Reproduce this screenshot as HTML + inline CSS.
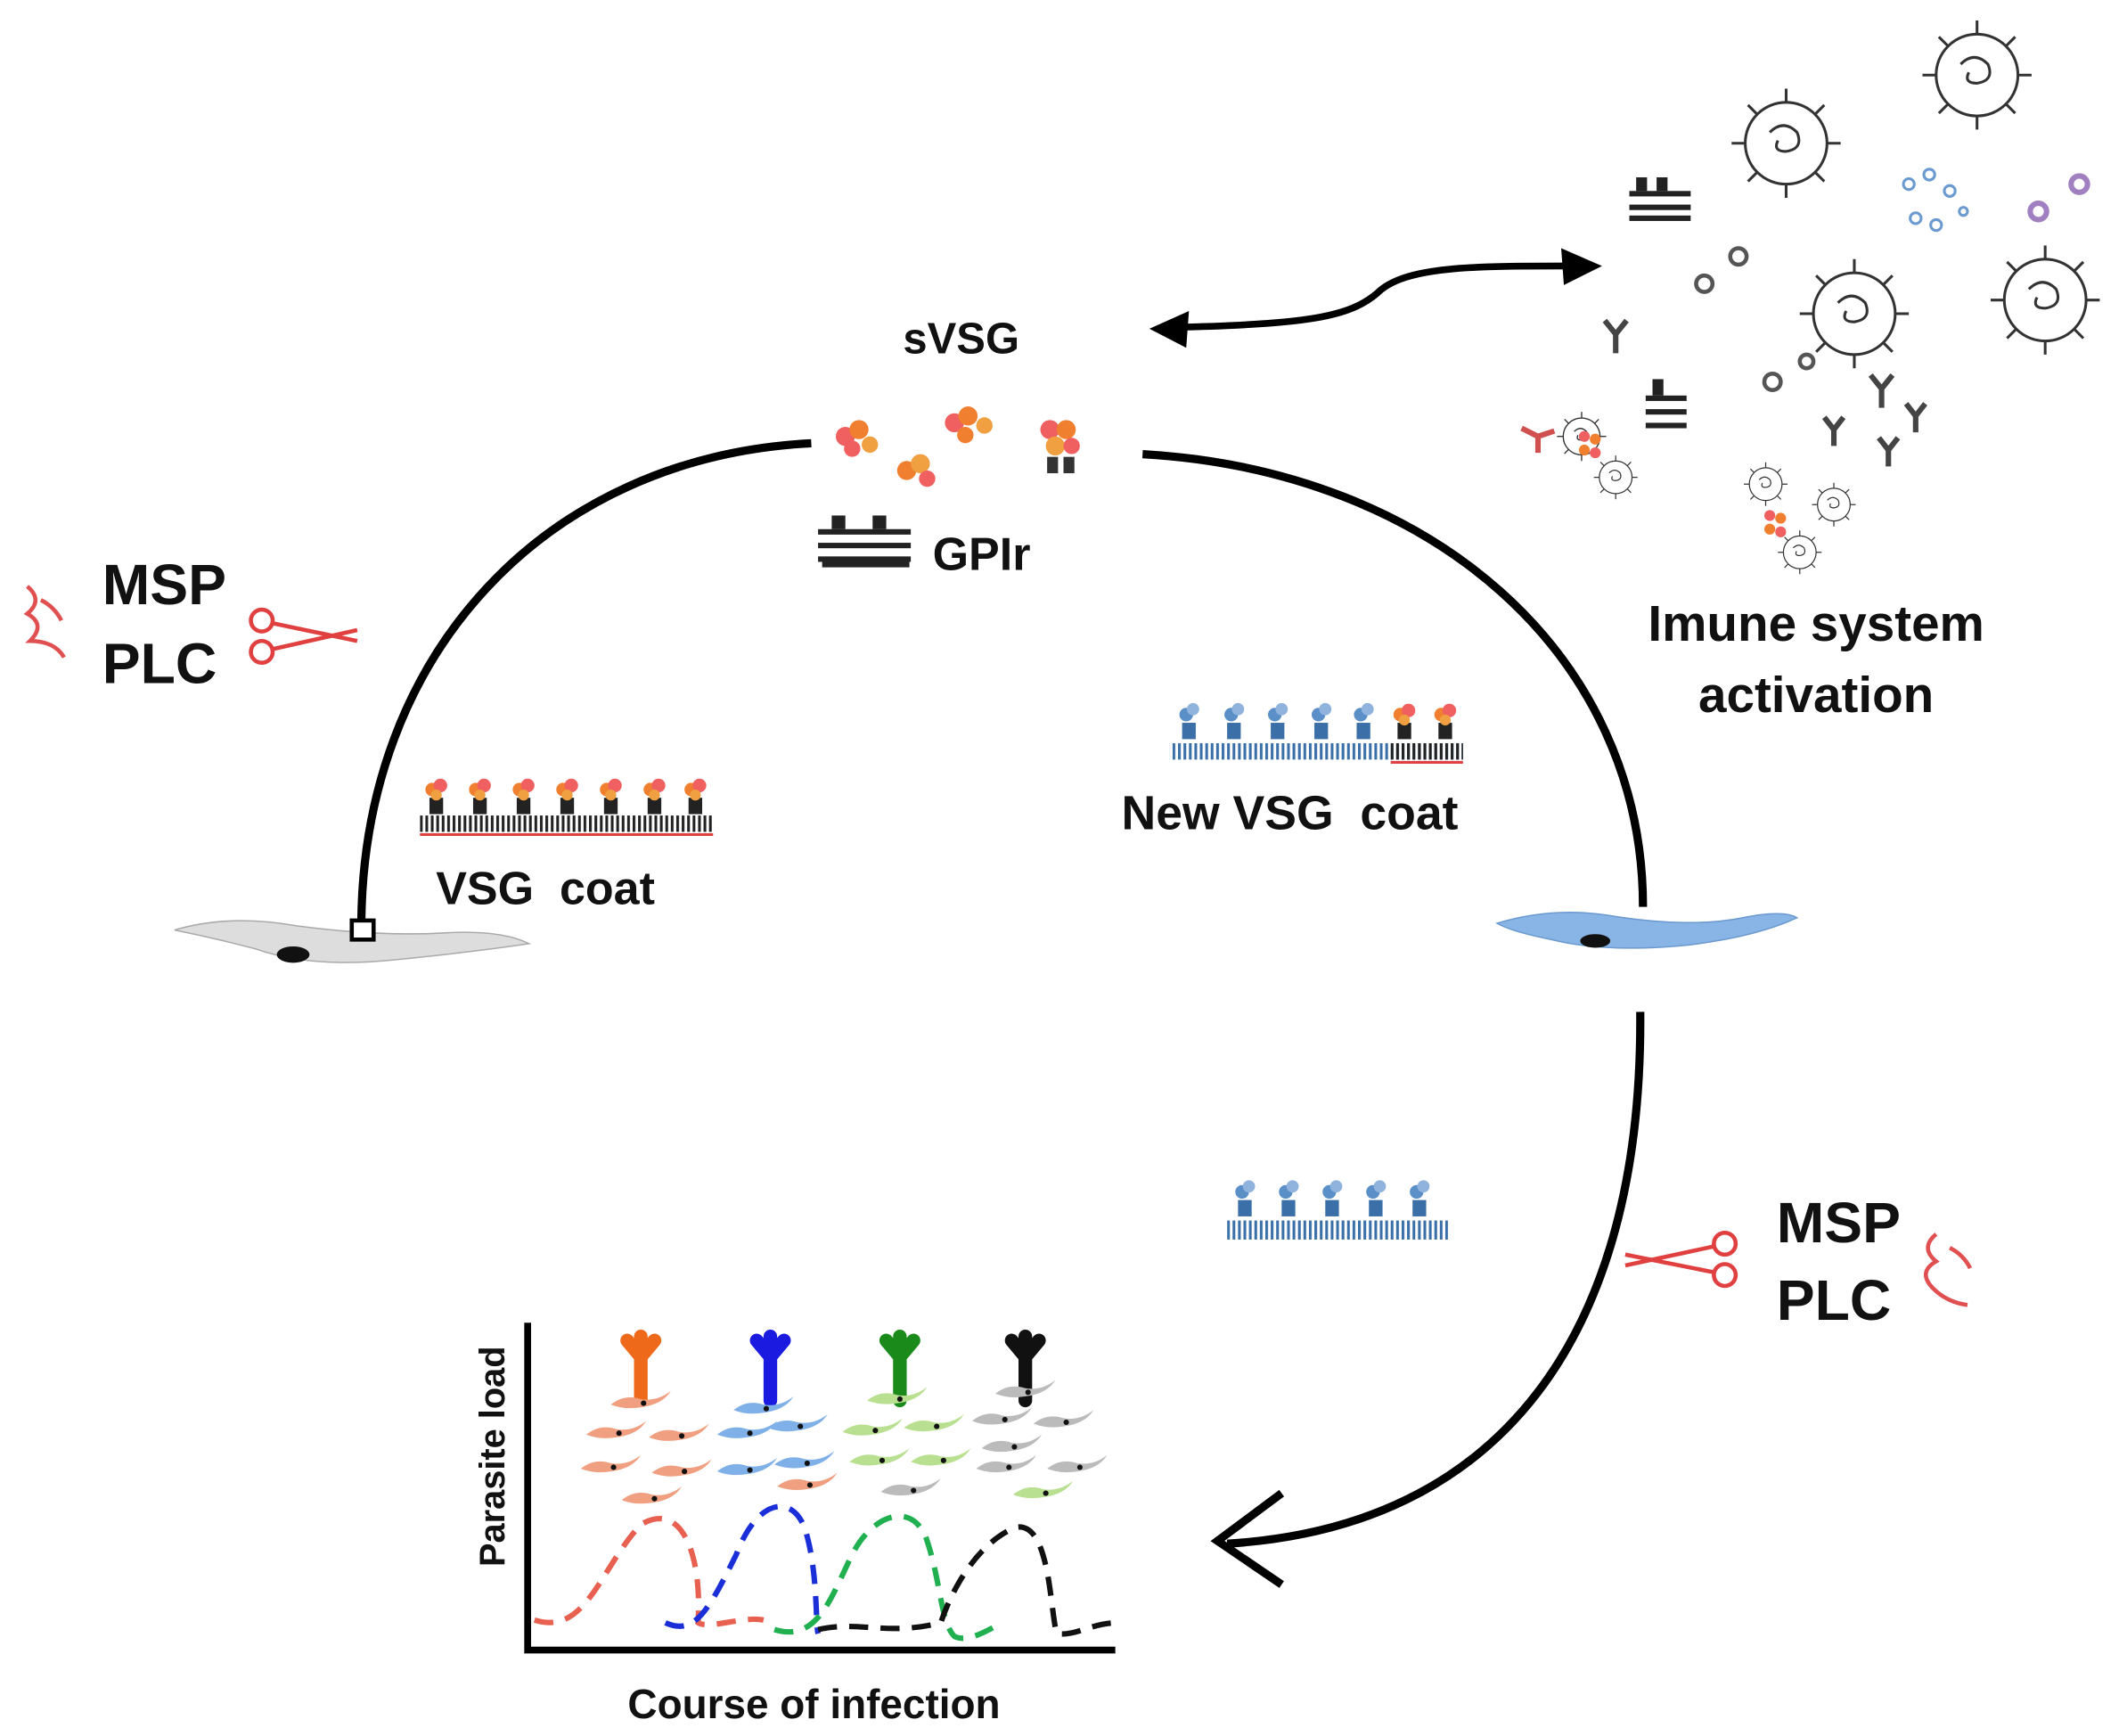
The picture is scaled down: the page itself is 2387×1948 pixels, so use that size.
<!DOCTYPE html>
<html><head><meta charset="utf-8"><style>
html,body{margin:0;padding:0;background:#fff}
svg{display:block}
text{font-family:"Liberation Sans",sans-serif;font-weight:bold;fill:#111}
</style></head><body>
<svg width="2387" height="1948" viewBox="0 0 1560 1273" xmlns="http://www.w3.org/2000/svg">
<defs>
<pattern id="stk" width="4" height="12" patternUnits="userSpaceOnUse"><rect width="2" height="12" fill="#222"/></pattern>
<pattern id="stb" width="4" height="12" patternUnits="userSpaceOnUse"><rect width="2" height="12" fill="#3a6fa8"/></pattern>
<g id="cell"><circle r="30" fill="none" stroke="#333" stroke-width="2"/><path d="M-12,-8 q10,-10 20,0 q5,12 -8,14 q-10,0 -6,-8" fill="none" stroke="#333" stroke-width="2"/>
<path d="M0,-30 v-10 M-30,0 h-10 M30,0 h10 M0,30 v10 M21,-21 l7,-7 M-21,21 l-7,7 M21,21 l7,7 M-21,-21 l-7,-7" stroke="#333" stroke-width="2"/></g>
<g id="vsg"><rect x="-5" y="0" width="10" height="12" fill="#222"/><circle cx="-3" cy="-6" r="5" fill="#f08030"/><circle cx="3" cy="-9" r="5" fill="#f06060"/><circle cx="0" cy="-2" r="4" fill="#f0a040"/></g>
<g id="bvsg"><rect x="-5" y="0" width="10" height="12" fill="#3a6fa8"/><circle cx="-2" cy="-6" r="5" fill="#5b8fc8"/><circle cx="3" cy="-10" r="4.5" fill="#8fb3dd"/></g>
<g id="tryp"><path d="M-22,2 q10,-8 22,-4 q12,2 22,-6 q-6,10 -22,12 q-12,2 -22,-2z"/><circle cx="2" cy="1" r="2" fill="#111"/></g>
</defs>

<path d="M595,325 C400,335 265,480 265,680" fill="none" stroke="#000" stroke-width="6"/>
<path d="M838,333 C1050,345 1205,480 1205,665" fill="none" stroke="#000" stroke-width="6"/>
<path d="M1203,742 C1205,980 1100,1120 900,1132" fill="none" stroke="#000" stroke-width="6"/>
<path d="M940,1095 L893,1130 L940,1162" fill="none" stroke="#000" stroke-width="6"/>
<path d="M860,240 C960,238 990,232 1010,215 C1030,195 1080,195 1155,195" fill="none" stroke="#000" stroke-width="5"/>
<path d="M843,241 L872,228 L870,255z" fill="#000"/>
<path d="M1175,195 L1145,182 L1147,209z" fill="#000"/>

<g transform="translate(620,320)"><circle r="7" fill="#f06060"/><circle cx="10" cy="-5" r="7" fill="#f08030"/><circle cx="18" cy="6" r="6" fill="#f0a040"/><circle cx="5" cy="9" r="6" fill="#f06060"/></g>
<g transform="translate(665,345)"><circle r="7" fill="#f08030"/><circle cx="10" cy="-5" r="7" fill="#f0a040"/><circle cx="15" cy="6" r="6" fill="#f06060"/></g>
<g transform="translate(700,310)"><circle r="7" fill="#f06060"/><circle cx="10" cy="-5" r="7" fill="#f08030"/><circle cx="22" cy="2" r="6" fill="#f0a040"/><circle cx="8" cy="9" r="6" fill="#f08030"/></g>
<g transform="translate(770,315)"><circle r="7" fill="#f06060"/><circle cx="12" cy="0" r="7" fill="#f08030"/><circle cx="4" cy="12" r="7" fill="#f0a040"/><circle cx="16" cy="12" r="6" fill="#f06060"/><rect x="-2" y="20" width="8" height="12" fill="#333"/><rect x="10" y="20" width="8" height="12" fill="#333"/></g>
<g fill="#222"><rect x="600" y="388" width="68" height="4"/><rect x="600" y="398" width="68" height="4"/><rect x="600" y="408" width="68" height="4"/><rect x="603" y="412" width="64" height="4"/><rect x="610" y="378" width="10" height="10"/><rect x="640" y="378" width="10" height="10"/></g>

<text x="705" y="259" font-size="32" text-anchor="middle">sVSG</text>
<text x="684" y="418" font-size="34">GPIr</text>

<text x="75" y="443" font-size="42">MSP</text>
<text x="75" y="501" font-size="42">PLC</text>
<path d="M20,430 q12,10 0,20 q14,8 2,20 q18,0 25,12 M30,440 q10,5 15,15" fill="none" stroke="#e05050" stroke-width="3"/>
<g stroke="#e04040" stroke-width="3" fill="none"><circle cx="192" cy="455" r="8"/><circle cx="192" cy="478" r="8"/><path d="M200,457 L262,470 M200,476 L262,462"/></g>

<text x="1303" y="911" font-size="42">MSP</text>
<text x="1303" y="968" font-size="42">PLC</text>
<path d="M1420,905 q-12,10 0,20 q-14,8 -2,20 q10,10 25,12 M1430,915 q10,5 15,15" fill="none" stroke="#e05050" stroke-width="3"/>
<g stroke="#e04040" stroke-width="3" fill="none"><circle cx="1265" cy="912" r="8"/><circle cx="1265" cy="935" r="8"/><path d="M1257,914 L1192,928 M1257,933 L1192,920"/></g>

<text x="1332" y="470" font-size="37" text-anchor="middle">Imune system</text>
<text x="1332" y="522" font-size="37" text-anchor="middle">activation</text>

<g>
<rect x="308" y="598" width="215" height="12" fill="url(#stk)"/>
<line x1="308" y1="612" x2="523" y2="612" stroke="#e04040" stroke-width="2"/>
<use href="#vsg" x="320" y="585"/><use href="#vsg" x="352" y="585"/><use href="#vsg" x="384" y="585"/><use href="#vsg" x="416" y="585"/><use href="#vsg" x="448" y="585"/><use href="#vsg" x="480" y="585"/><use href="#vsg" x="510" y="585"/>
</g>
<text x="400" y="663" font-size="34" text-anchor="middle" xml:space="preserve">VSG  coat</text>

<g>
<rect x="858" y="545" width="215" height="12" fill="url(#stb)"/>
<rect x="1020" y="545" width="53" height="12" fill="url(#stk)"/>
<line x1="1020" y1="559" x2="1073" y2="559" stroke="#e04040" stroke-width="2"/>
<use href="#bvsg" x="872" y="530"/><use href="#bvsg" x="905" y="530"/><use href="#bvsg" x="937" y="530"/><use href="#bvsg" x="969" y="530"/><use href="#bvsg" x="1000" y="530"/><use href="#vsg" x="1030" y="530"/><use href="#vsg" x="1060" y="530"/>
</g>
<text x="946" y="608" font-size="35" text-anchor="middle" xml:space="preserve">New VSG  coat</text>

<g>
<rect x="900" y="895" width="162" height="14" fill="url(#stb)"/>
<use href="#bvsg" x="913" y="880"/><use href="#bvsg" x="945" y="880"/><use href="#bvsg" x="977" y="880"/><use href="#bvsg" x="1009" y="880"/><use href="#bvsg" x="1041" y="880"/>
</g>

<path d="M128,682 q40,-12 90,-3 q60,8 110,5 q40,-2 60,8 q-40,6 -100,12 q-60,6 -100,-8 q-30,-8 -60,-14z" fill="#ddd" stroke="#aaa"/>
<ellipse cx="215" cy="700" rx="12" ry="6" fill="#111"/>
<rect x="258" y="675" width="16" height="14" fill="#fff" stroke="#000" stroke-width="3"/>
<path d="M1098,677 q40,-12 80,-6 q60,10 100,2 q30,-6 40,0 q-30,14 -80,20 q-60,6 -100,-4 q-30,-6 -40,-12z" fill="#88b4e6" stroke="#6a9ad0"/>
<ellipse cx="1170" cy="690" rx="11" ry="5" fill="#111"/>

<use href="#cell" x="1310" y="105"/>
<use href="#cell" x="1450" y="55"/>
<use href="#cell" x="1500" y="220"/>
<use href="#cell" x="1360" y="230"/>
<g transform="translate(1160,320) scale(0.45)"><use href="#cell"/></g>
<g transform="translate(1185,350) scale(0.4)"><use href="#cell"/></g>
<g transform="translate(1295,355) scale(0.4)"><use href="#cell"/></g>
<g transform="translate(1345,370) scale(0.4)"><use href="#cell"/></g>
<g transform="translate(1320,405) scale(0.4)"><use href="#cell"/></g>
<g fill="none" stroke="#6a9ad0" stroke-width="2"><circle cx="1400" cy="135" r="4"/><circle cx="1415" cy="128" r="4"/><circle cx="1430" cy="140" r="4"/><circle cx="1405" cy="160" r="4"/><circle cx="1420" cy="165" r="4"/><circle cx="1440" cy="155" r="3"/></g>
<g fill="none" stroke="#a080c0" stroke-width="4"><circle cx="1495" cy="155" r="6"/><circle cx="1525" cy="135" r="6"/></g>
<g fill="none" stroke="#555" stroke-width="3"><circle cx="1250" cy="208" r="6"/><circle cx="1275" cy="188" r="6"/><circle cx="1300" cy="280" r="6"/><circle cx="1325" cy="265" r="5"/></g>
<g fill="#222"><rect x="1195" y="140" width="45" height="4"/><rect x="1195" y="150" width="45" height="4"/><rect x="1195" y="158" width="45" height="4"/><rect x="1200" y="130" width="8" height="10"/><rect x="1215" y="130" width="8" height="10"/>
<rect x="1207" y="290" width="30" height="4"/><rect x="1207" y="300" width="30" height="4"/><rect x="1207" y="310" width="30" height="4"/><rect x="1212" y="278" width="8" height="12"/></g>
<g stroke="#444" stroke-width="4" fill="none"><path d="M1185,245 v14 M1185,245 l-8,-10 M1185,245 l8,-10"/><path d="M1380,285 v14 M1380,285 l-8,-10 M1380,285 l8,-10"/><path d="M1345,315 v12 M1345,315 l-7,-9 M1345,315 l7,-9"/><path d="M1385,330 v12 M1385,330 l-7,-9 M1385,330 l7,-9"/><path d="M1405,305 v12 M1405,305 l-7,-9 M1405,305 l7,-9"/></g>
<path d="M1128,320 v12 M1128,320 l-12,-6 M1128,320 l12,-4" stroke="#d05050" stroke-width="4" fill="none"/>
<g><circle cx="1162" cy="320" r="4" fill="#f06060"/><circle cx="1170" cy="322" r="4" fill="#f08030"/><circle cx="1162" cy="330" r="4" fill="#f08030"/><circle cx="1170" cy="332" r="4" fill="#f06060"/>
<circle cx="1298" cy="378" r="4" fill="#f06060"/><circle cx="1306" cy="380" r="4" fill="#f08030"/><circle cx="1298" cy="388" r="4" fill="#f08030"/><circle cx="1306" cy="390" r="4" fill="#f06060"/></g>

<path d="M387,970 V1210 H818" fill="none" stroke="#000" stroke-width="5"/>
<text transform="translate(370,1068) rotate(-90)" font-size="26" text-anchor="middle">Parasite load</text>
<text x="597" y="1260" font-size="30" text-anchor="middle">Course of infection</text>
<g fill="none" stroke-width="4" stroke-dasharray="14 9">
<path d="M392,1188 C430,1200 440,1150 470,1118 C500,1100 515,1140 512,1190 C520,1195 545,1185 560,1188" stroke="#e86050"/>
<path d="M488,1190 C510,1200 520,1180 540,1140 C555,1100 580,1095 590,1120 C600,1150 598,1190 600,1198" stroke="#1a2fd8"/>
<path d="M568,1195 C600,1205 610,1170 625,1140 C640,1110 670,1100 680,1130 C690,1160 690,1190 700,1200 C710,1205 725,1195 735,1190" stroke="#20b050"/>
<path d="M600,1195 C630,1188 650,1200 690,1190 C700,1160 720,1130 745,1120 C770,1115 770,1180 775,1198 C790,1200 800,1190 820,1190" stroke="#111"/>
</g>
<g stroke-linecap="round" fill="none" stroke-width="10">
<path d="M470,985 v15 M470,985 l-10,12 M470,985 l10,12 M470,985 v-32" stroke="#ee6a1a" transform="translate(0,10) rotate(180 470 985)"/>
<path d="M565,985 v15 M565,985 l-10,12 M565,985 l10,12 M565,985 v-32" stroke="#1a1ae0" transform="translate(0,10) rotate(180 565 985)"/>
<path d="M660,985 v15 M660,985 l-10,12 M660,985 l10,12 M660,985 v-32" stroke="#1a8a1a" transform="translate(0,10) rotate(180 660 985)"/>
<path d="M752,985 v15 M752,985 l-10,12 M752,985 l10,12 M752,985 v-32" stroke="#111" transform="translate(0,10) rotate(180 752 985)"/>
</g>
<g fill="#f0a080"><use href="#tryp" x="470" y="1028"/><use href="#tryp" x="452" y="1050"/><use href="#tryp" x="498" y="1052"/><use href="#tryp" x="448" y="1075"/><use href="#tryp" x="500" y="1078"/><use href="#tryp" x="478" y="1098"/></g>
<g fill="#80b0e8"><use href="#tryp" x="560" y="1032"/><use href="#tryp" x="548" y="1050"/><use href="#tryp" x="585" y="1045"/><use href="#tryp" x="548" y="1077"/><use href="#tryp" x="590" y="1072"/><use href="#tryp" x="592" y="1088" fill="#f0a080"/></g>
<g fill="#b8e090"><use href="#tryp" x="658" y="1025"/><use href="#tryp" x="640" y="1048"/><use href="#tryp" x="685" y="1045"/><use href="#tryp" x="645" y="1070"/><use href="#tryp" x="690" y="1070"/><use href="#tryp" x="668" y="1092" fill="#bbb"/></g>
<g fill="#bbb"><use href="#tryp" x="752" y="1020"/><use href="#tryp" x="735" y="1040"/><use href="#tryp" x="780" y="1042"/><use href="#tryp" x="742" y="1060"/><use href="#tryp" x="790" y="1075"/><use href="#tryp" x="738" y="1075"/><use href="#tryp" x="765" y="1094" fill="#b8e090"/></g>
</svg>
</body></html>
